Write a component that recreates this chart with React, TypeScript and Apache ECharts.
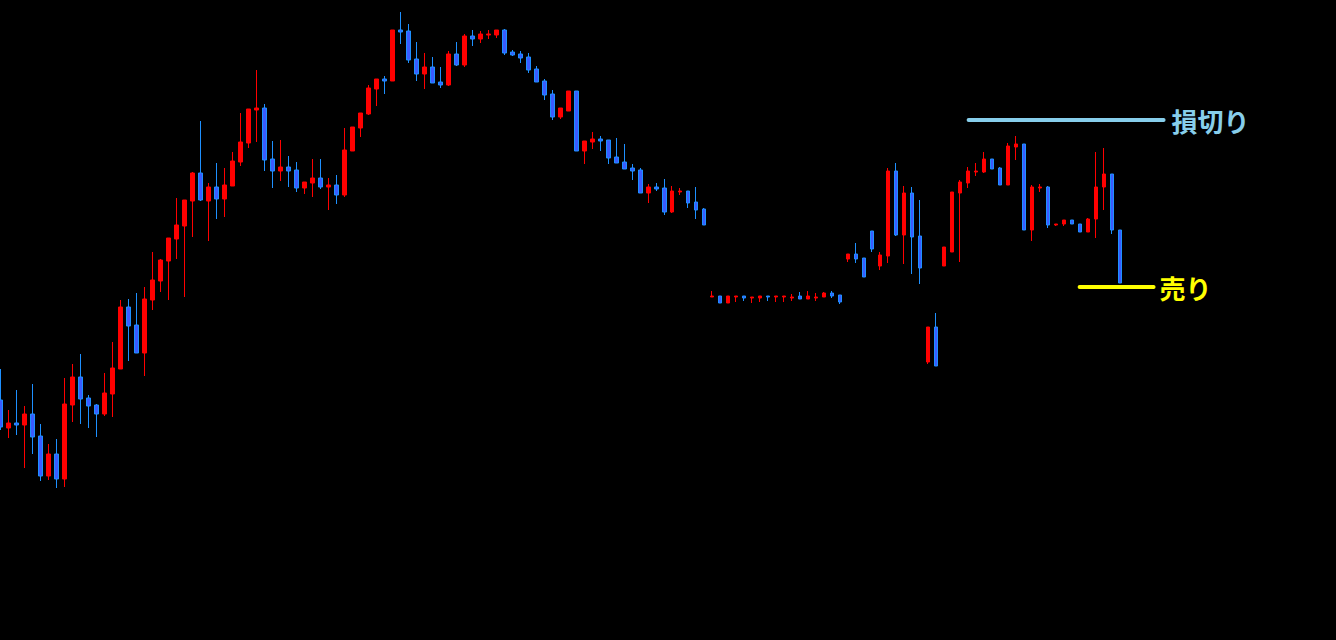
import React, { useEffect, useRef } from "react";
import * as echarts from "echarts";

// Candle prices (chart units), index = bar number
const openP = [
  240, 212, 217, 215, 226, 204, 164, 186, 161, 235, 263, 242, 235, 226, 246, 271, 333, 315, 287, 340,
  359, 379, 401, 414, 439, 467, 439, 453, 441, 454, 478, 497, 530, 532, 481, 469, 473, 470, 452, 457,
  462, 453, 455, 445, 489, 512, 526, 551, 561, 559, 610, 609, 581, 566, 573, 558, 555, 586, 575, 604,
  601, 605, 605, 610, 588, 586, 583, 571, 559, 546, 523, 529, 549, 489, 498, 501, 500, 483, 478, 472,
  470, 447, 453, 452, 428, 448, 449, 438, 431, 343, 344, 337, 343, 344, 342, 342, 344, 343, 343, 342,
  344, 341, 342, 343, 347, 345, 381, 386, 382, 409, 374, 384, 469, 405, 447, 404, 278, 313, 374, 388,
  447, 457, 468, 468, 481, 472, 455, 493, 496, 410, 452, 453, 415, 416, 420, 416, 408, 421, 453, 466,
  410,
];
const closeP = [
  213, 217, 215, 226, 203, 164, 186, 161, 236, 263, 241, 234, 226, 247, 272, 333, 314, 287, 341, 360,
  380, 402, 415, 440, 467, 440, 453, 441, 455, 479, 498, 531, 532, 480, 469, 473, 469, 452, 458, 462,
  453, 455, 445, 490, 513, 527, 552, 561, 559, 610, 608, 580, 566, 573, 557, 555, 586, 575, 604, 601,
  606, 606, 610, 587, 585, 582, 570, 558, 545, 523, 532, 549, 489, 499, 501, 499, 482, 477, 471, 469,
  447, 453, 451, 428, 449, 449, 437, 430, 415, 344, 337, 344, 344, 342, 343, 344, 343, 344, 344, 343,
  341, 344, 343, 347, 344, 338, 386, 381, 363, 391, 385, 469, 405, 447, 403, 372, 313, 274, 393, 448,
  458, 469, 469, 481, 471, 455, 494, 496, 410, 453, 453, 415, 416, 420, 416, 408, 421, 453, 466, 410,
  357,
];
const highP = [
  271, 230, 250, 234, 256, 216, 196, 201, 262, 276, 286, 245, 236, 267, 298, 340, 341, 347, 353, 388,
  381, 402, 442, 440, 468, 519, 457, 477, 472, 488, 527, 531, 570, 536, 499, 500, 484, 478, 458, 481,
  481, 462, 465, 512, 513, 527, 555, 561, 564, 610, 628, 616, 598, 587, 583, 573, 589, 598, 606, 610,
  609, 610, 610, 611, 590, 589, 587, 574, 561, 550, 532, 549, 549, 499, 508, 504, 500, 502, 496, 476,
  472, 456, 457, 461, 454, 452, 449, 453, 432, 349, 344, 344, 344, 344, 343, 344, 344, 344, 344, 346,
  348, 349, 347, 348, 349, 345, 386, 397, 382, 409, 388, 472, 477, 454, 453, 440, 313, 327, 393, 448,
  460, 473, 477, 488, 481, 473, 497, 504, 496, 455, 456, 454, 416, 420, 420, 416, 422, 488, 492, 466,
  410,
];
const lowP = [
  210, 202, 205, 172, 186, 159, 160, 152, 153, 218, 216, 212, 203, 224, 223, 271, 279, 287, 264, 330,
  348, 340, 381, 343, 403, 439, 399, 421, 423, 454, 474, 492, 498, 469, 452, 459, 453, 448, 446, 443,
  451, 430, 436, 443, 489, 503, 525, 534, 546, 559, 596, 577, 559, 551, 557, 552, 554, 574, 573, 594,
  597, 601, 602, 585, 584, 577, 567, 558, 540, 520, 521, 529, 489, 476, 491, 489, 476, 477, 471, 460,
  447, 437, 449, 425, 427, 445, 432, 421, 415, 343, 337, 337, 338, 339, 337, 338, 339, 338, 338, 339,
  341, 341, 339, 343, 342, 336, 378, 377, 363, 388, 370, 377, 404, 376, 366, 356, 276, 274, 374, 388,
  378, 452, 464, 467, 471, 455, 455, 480, 410, 399, 448, 412, 414, 414, 416, 408, 408, 402, 430, 406,
  357,
];

// Level lines
const stopLossLevel = 520;
const stopLossRange = [121.06, 145.44];
const stopLossText = "損切り";
const sellLevel = 353;
const sellRange = [134.94, 144.19];
const sellText = "売り";

const SLOTS = 168;

export default function App() {
  const ref = useRef<HTMLDivElement>(null);
  useEffect(() => {
    const chart = echarts.init(ref.current as HTMLDivElement, null, { renderer: "svg" });
    const candles = openP.map((o, i) => [o, closeP[i], lowP[i], highP[i]]);
    const cats = Array.from({ length: SLOTS }, (_, i) => String(i));
    const labelFont = {
      fontSize: 26,
      fontWeight: "bold" as const,
      fontFamily: "'Noto Sans CJK JP', 'Noto Sans', sans-serif",
    };
    chart.setOption({
      animation: false,
      backgroundColor: "#000000",
      grid: { left: 0.5, top: 0, width: 1336, height: 640, containLabel: false },
      xAxis: [
        { type: "category", data: cats, show: false, boundaryGap: false },
        { type: "value", min: 0, max: SLOTS - 1, show: false },
      ],
      yAxis: { type: "value", min: 0, max: 640, show: false, splitLine: { show: false } },
      series: [
        {
          type: "candlestick",
          data: candles,
          barWidth: 4,
          silent: true,
          clip: false,
          itemStyle: {
            color: "#ff0000",
            color0: "#3a5bff",
            borderColor: "#ff0000",
            borderColor0: "#1e90ff",
            borderWidth: 1,
          },
        },
        {
          type: "line",
          xAxisIndex: 1,
          silent: true,
          showSymbol: false,
          clip: false,
          data: [
            [stopLossRange[0], stopLossLevel],
            [stopLossRange[1], stopLossLevel],
          ],
          lineStyle: { color: "#87ceeb", width: 4, cap: "round" },
          endLabel: {
            show: true,
            formatter: stopLossText,
            color: "#87ceeb",
            distance: 8,
            ...labelFont,
          },
        },
        {
          type: "line",
          xAxisIndex: 1,
          silent: true,
          showSymbol: false,
          clip: false,
          data: [
            [sellRange[0], sellLevel],
            [sellRange[1], sellLevel],
          ],
          lineStyle: { color: "#ffff00", width: 4, cap: "round" },
          endLabel: {
            show: true,
            formatter: sellText,
            color: "#ffff00",
            distance: 6,
            ...labelFont,
          },
        },
      ],
    });
    return () => chart.dispose();
  }, []);
  return (
    <div
      ref={ref}
      style={{ position: "fixed", left: 0, top: 0, width: 1336, height: 640, background: "#000" }}
    />
  );
}
